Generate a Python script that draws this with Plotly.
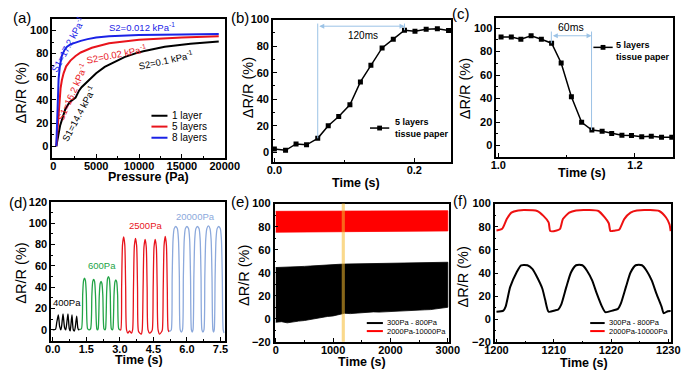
import plotly.graph_objects as go

FONT = "Arial, Liberation Sans, sans-serif"
W, H = 700, 383

# ---------------- data ----------------
# (a) sensitivity curves
a_p_1 = [350, 800, 1400, 1900, 2600, 3000, 3300, 4200, 5000, 6000, 7200, 8300, 9500, 10500, 13000, 16000, 19300]
a_v_1 = [0, 18, 32, 38, 42, 48, 51, 57, 63, 68.5, 73, 77, 80, 82, 86, 88.5, 90.5]
a_p_5 = [350, 480, 600, 700, 850, 1000, 1200, 1500, 2000, 2600, 3200, 4500, 6500, 10000, 15000, 19300]
a_v_5 = [0, 15, 30, 40, 50, 57, 63, 69, 74, 78, 81, 85, 89, 92, 94, 95]
a_p_8 = [350, 420, 520, 620, 780, 1000, 1300, 1600, 2000, 2500, 3200, 4000, 5000, 6500, 10000, 15000, 19300]
a_v_8 = [0, 20, 40, 58, 70, 78, 83, 86, 88, 89.5, 91, 92.5, 94, 95, 96, 96.5, 97]
a_names = ["1 layer", "5 layers", "8 layers"]

# (b) response time
b_t = [0.000, 0.016, 0.031, 0.046, 0.062, 0.077, 0.092, 0.108, 0.123, 0.138, 0.154, 0.170, 0.186, 0.201, 0.217, 0.233, 0.249]
b_v = [2.4, 1.5, 6.3, 5.6, 10.5, 20, 27, 35.8, 53, 65.5, 78.6, 85.2, 92, 91.2, 92.7, 93, 91.7]

# (c) recovery time
c_t = [1.004, 1.019, 1.033, 1.048, 1.063, 1.078, 1.092, 1.107, 1.122, 1.137, 1.152, 1.166, 1.181, 1.195, 1.210, 1.224, 1.239, 1.254]
c_v = [92.3, 92.3, 90.4, 93.4, 90.4, 87.1, 70.3, 41.5, 19.8, 13.2, 12.1, 10.2, 8.8, 8.5, 7.4, 8, 7.1, 7.1]

# (d) cycles at different pressures
d_400_t = [0.00, 0.12, 0.18, 0.25, 0.31, 0.36, 0.40, 0.46, 0.53, 0.58, 0.62, 0.68, 0.74, 0.78, 0.81, 0.86, 0.92, 0.97, 1.01, 1.07, 1.12, 1.16, 1.20]
d_400_v = [0.0, 0.5, 7, 14, 3, 0, 4, 15, 2, 0, 5, 15, 1, -1, 4, 14, 0, -1, 3, 13, 2, 0, 0.5]
d_600_t = [1.20, 1.28, 1.34, 1.38, 1.42, 1.46, 1.50, 1.56, 1.62,
           1.69, 1.75, 1.79, 1.83, 1.87, 1.91, 1.97, 2.00,
           2.03, 2.08, 2.12, 2.16, 2.20, 2.24, 2.29, 2.33,
           2.36, 2.41, 2.45, 2.49, 2.53, 2.57, 2.62, 2.66,
           2.69, 2.74, 2.78, 2.82, 2.86, 2.90, 2.95, 3.00]
d_600_v = [0.5, 1, 34, 46.5, 48.5, 46.5, 34, 1, 0,
           1, 33, 45.5, 47.3, 45.5, 33, 1, 0,
           1, 32, 43.5, 45.5, 43.5, 32, 1, 0,
           1, 35, 48, 50, 48, 35, 1, 0,
           1, 33, 45, 47, 45, 33, 1, 0]
d_2500_t = [3.00, 3.04, 3.08, 3.12, 3.17, 3.22, 3.26, 3.30, 3.36, 3.43, 3.52,
            3.57, 3.61, 3.65, 3.70, 3.75, 3.79, 3.83, 3.89, 3.96,
            4.00, 4.04, 4.08, 4.13, 4.18, 4.22, 4.26, 4.33, 4.40,
            4.45, 4.49, 4.53, 4.58, 4.63, 4.67, 4.71, 4.78, 4.86,
            4.90, 4.94, 4.98, 5.03, 5.08, 5.12, 5.16, 5.20]
d_2500_v = [0, 0, 40, 80, 87.3, 80, 40, 0, -3, -1, -3,
            0, 40, 79, 85.8, 79, 40, -1, -3, -4,
            0, 40, 78, 84.8, 78, 40, 0, -3, -2,
            0, 40, 78, 84.8, 78, 40, 0, -4, -2,
            0, 40, 80, 87.6, 80, 40, 0, -2]
d_20000_t = [5.20, 5.26, 5.30, 5.34, 5.38, 5.43, 5.50, 5.57, 5.62, 5.66, 5.70, 5.75,
             5.80, 5.84, 5.88, 5.93, 6.00, 6.07, 6.12, 6.16, 6.20, 6.235,
             6.27, 6.31, 6.35, 6.40, 6.47, 6.54, 6.59, 6.63, 6.67, 6.715,
             6.76, 6.80, 6.84, 6.89, 6.96, 7.03, 7.08, 7.12, 7.16, 7.19,
             7.22, 7.26, 7.30, 7.35, 7.42, 7.49, 7.54, 7.58, 7.62, 7.66]
d_20000_v = [-1, -1, 0, 50, 85, 95, 97, 95, 85, 50, 0, -2,
             0, 50, 85, 95, 97, 95, 85, 50, 0, -2,
             0, 50, 85, 95, 97, 95, 85, 50, 0, -2,
             0, 50, 85, 95, 97.5, 95, 85, 50, 0, -2,
             0, 50, 85, 95, 97, 95, 85, 50, 0, -3]
d_labels = ["400Pa", "600Pa", "2500Pa", "20000Pa"]

# (e) long-term stability envelopes
e_t = [0, 100, 200, 300, 400, 500, 600, 700, 800, 900, 1000, 1100, 1200, 1300, 1400, 1500,
       1600, 1700, 1800, 1900, 2000, 2100, 2200, 2300, 2400, 2500, 2600, 2700, 2800, 2900, 3000]
e_low_lo = [-3, -2.5, -3.5, -2.5, -2, -1.5, -0.5, 0, 1, 2, 2.5, 3.5, 4.8, 4.5, 5, 5.2,
            5.5, 6, 5.8, 6.2, 6.5, 6.6, 7, 6.8, 7.2, 7.5, 7.8, 8, 8.5, 9.2, 10]
e_low_hi = [44.5, 44.6, 44.8, 45, 45.2, 45.5, 45.8, 46.2, 46.5, 46.8, 47.1, 47.3, 47.5, 47.6, 47.8, 48,
            48.2, 48.2, 48.3, 48.4, 48.5, 48.6, 48.7, 48.8, 48.8, 48.9, 48.9, 49, 49, 49.1, 49.1]
e_hi_t = [0, 500, 1000, 1500, 2000, 2500, 3000]
e_hi_lo = [75.2, 75.3, 75.5, 75.8, 76, 76.2, 76.3]
e_hi_hi = [93.3, 93.4, 93.5, 93.5, 93.6, 93.7, 93.8]
e_names = ["300Pa - 800Pa", "2000Pa-10000Pa"]

# (f) zoom 1200-1230 s
f_low_t = [1200, 1201.2, 1201.6, 1202.4, 1203.5, 1204.3, 1205.4, 1206.3, 1207.1, 1208.0, 1208.5, 1209.1,
           1210.2, 1210.8, 1211.3, 1212.2, 1213.0, 1213.9, 1215.0, 1215.8, 1216.7, 1217.5, 1218.4, 1219.0,
           1220.3, 1221.2, 1221.7, 1222.6, 1223.4, 1224.3, 1225.4, 1226.2, 1227.1, 1227.9, 1228.8, 1229.2,
           1229.9, 1230.4]
f_low_v = [6.5, 7.5, 11, 28, 40.5, 46.7, 46.7, 43.3, 36.3, 26.6, 16.8, 6.5,
           7.6, 8.5, 12.6, 28, 40.5, 46.7, 46.7, 42, 33.6, 22.4, 11.2, 6.2,
           7.6, 9, 13.5, 28, 40.5, 46.7, 46.7, 42, 33.6, 22.4, 11.2, 5.3,
           7, 7.2]
f_hi_t = [1200, 1201.0, 1201.8, 1202.6, 1203.8, 1204.9, 1207.1, 1208.2, 1209.1, 1209.4,
          1210.5, 1211.1, 1211.6, 1212.7, 1213.9, 1216.1, 1217.8, 1218.9, 1219.6, 1219.9,
          1220.6, 1221.4, 1222.3, 1223.4, 1224.5, 1226.7, 1228.4, 1229.6, 1230.2, 1230.4]
f_hi_v = [76.8, 78.2, 86.6, 92.2, 94.1, 94.4, 93.6, 89.4, 83.8, 76.3,
          76.8, 78.2, 86.6, 92.2, 94.1, 94.4, 93.6, 88, 83, 76.3,
          76.6, 77.4, 86.6, 92.2, 94.1, 94.4, 93.6, 88, 82, 76.3]

# ---------------- colours ----------------
BLK = "#000000"
RED_A = "#E8141C"
BLUE_A = "#1A22E6"
GREEN = "#22A446"
LBLUE = "#8CA9DC"
ARROW = "#9CC3E6"

fig = go.Figure()


def X(px):
    return px / W


def Y(py):
    return 1 - py / H


# (a)
for p, v, c, n in [(a_p_1, a_v_1, BLK, a_names[0]), (a_p_5, a_v_5, RED_A, a_names[1]), (a_p_8, a_v_8, BLUE_A, a_names[2])]:
    fig.add_trace(go.Scatter(x=p, y=v, mode="lines", line=dict(color=c, width=2), name=n, xaxis="x", yaxis="y"))

# (b)
fig.add_trace(go.Scatter(x=b_t, y=b_v, mode="lines+markers", line=dict(color=BLK, width=1.5),
                         marker=dict(symbol="square", size=5, color=BLK), xaxis="x2", yaxis="y2"))
# (c)
fig.add_trace(go.Scatter(x=c_t, y=c_v, mode="lines+markers", line=dict(color=BLK, width=1.5),
                         marker=dict(symbol="square", size=5, color=BLK), xaxis="x3", yaxis="y3"))
# (d)
for t, v, c in [(d_400_t, d_400_v, BLK), (d_600_t, d_600_v, GREEN), (d_2500_t, d_2500_v, RED_A), (d_20000_t, d_20000_v, LBLUE)]:
    fig.add_trace(go.Scatter(x=t, y=v, mode="lines", line=dict(color=c, width=1.3, shape="spline", smoothing=0.7),
                             xaxis="x4", yaxis="y4"))
# (e)
fig.add_trace(go.Scatter(x=e_t + e_t[::-1], y=e_low_hi + e_low_lo[::-1], mode="lines", fill="toself",
                         fillcolor=BLK, line=dict(color=BLK, width=0.8), xaxis="x5", yaxis="y5"))
fig.add_trace(go.Scatter(x=e_hi_t + e_hi_t[::-1], y=e_hi_hi + e_hi_lo[::-1], mode="lines", fill="toself",
                         fillcolor="#FF0000", line=dict(color="#FF0000", width=0.8), xaxis="x5", yaxis="y5"))
# (f)
fig.add_trace(go.Scatter(x=f_hi_t, y=f_hi_v, mode="lines", line=dict(color="#EE1111", width=2, shape="spline", smoothing=0.6),
                         xaxis="x6", yaxis="y6"))
fig.add_trace(go.Scatter(x=f_low_t, y=f_low_v, mode="lines", line=dict(color=BLK, width=2, shape="spline", smoothing=0.6),
                         xaxis="x6", yaxis="y6"))


def axis(domain, rng, dtick, minor, tick0=0, fmt="d", anchor=None, standoff=0):
    return dict(domain=domain, range=rng, dtick=dtick, tick0=tick0, showline=True, mirror=True,
                linecolor="black", linewidth=1.5, ticks="inside", ticklen=4, tickwidth=1.2,
                tickcolor="black", showgrid=False, zeroline=False, anchor=anchor, tickformat=fmt,
                ticklabelstandoff=standoff,
                tickfont=dict(family=FONT, size=11, color="black", weight=700),
                minor=dict(ticks="inside", ticklen=2, tickwidth=1, tickcolor="black", dtick=minor, tick0=tick0, showgrid=False))


XS = -3
layout = dict(
    width=W, height=H, margin=dict(l=0, r=0, t=0, b=0), showlegend=False,
    paper_bgcolor="white", plot_bgcolor="white", font=dict(family=FONT, color="black"),
    xaxis=axis([X(44), X(222.7)], [-100, 20000], 5000, 2500, anchor="y", standoff=XS),
    yaxis=axis([Y(156.7), Y(13.3)], [-10, 110], 20, 10, anchor="x"),
    xaxis2=axis([X(272.7), X(457.7)], [-0.002, 0.253], 0.2, 0.1, fmt=".1f", anchor="y2", standoff=XS),
    yaxis2=axis([Y(161), Y(14)], [-7.3, 100], 20, 10, anchor="x2"),
    xaxis3=axis([X(504.3), X(687.7)], [0.997, 1.256], 0.2, 0.1, tick0=1.0, fmt=".1f", anchor="y3", standoff=XS),
    yaxis3=axis([Y(155.7), Y(12.3)], [-9.6, 108.6], 20, 10, anchor="x3"),
    xaxis4=axis([X(42.7), X(222.7)], [-0.07, 7.69], 1.5, 0.75, fmt=".1f", anchor="y4", standoff=XS),
    yaxis4=axis([Y(345.7), Y(202.3)], [-10.3, 120], 20, 10, anchor="x4"),
    xaxis5=axis([X(274.3), X(455.7)], [-22, 3028], 1000, 500, anchor="y5", standoff=XS),
    yaxis5=axis([Y(346.7), Y(204)], [-20, 100], 20, 10, anchor="x5"),
    xaxis6=axis([X(502.7), X(685.7)], [1199.7, 1230.5], 10, 5, tick0=1200, anchor="y6", standoff=XS),
    yaxis6=axis([Y(347.3), Y(204)], [-20, 100], 20, 10, anchor="x6"),
)
fig.update_layout(**layout)

ann = []
shapes = []


def txt(px, py, s, size=10, color="black", bold=False, angle=0, xanchor="center", yanchor="middle", align="center"):
    ann.append(dict(x=X(px), y=Y(py), xref="paper", yref="paper", text=s, showarrow=False, textangle=angle,
                    xanchor=xanchor, yanchor=yanchor, align=align,
                    font=dict(family=FONT, size=size, color=color, weight=700 if bold else 400)))


def seg(px0, px1, py, color, width=2):
    shapes.append(dict(type="line", xref="paper", yref="paper", x0=X(px0), x1=X(px1), y0=Y(py), y1=Y(py),
                       line=dict(color=color, width=width)))


# panel labels
for px, py, s in [(12.5, 11.7, "(a)"), (239, 11.7, "(b)"), (468, 8, "(c)"), (8.5, 202.5, "(d)"), (238, 201.7, "(e)"), (467, 201, "(f)")]:
    txt(px, py, s, size=15)

# axis titles
YT = "ΔR/R (%)"
for px, py in [(11.7, 90), (246.7, 84), (471.7, 85), (11.7, 276), (243.3, 278), (470, 280)]:
    txt(px, py, YT, size=14.5, angle=-90)
txt(143.3, 176.5, "Pressure (Pa)", size=12.5, bold=True)
txt(359.3, 182.5, "Time (s)", size=12.5, bold=True)
txt(593.3, 172.5, "Time (s)", size=12.5, bold=True)
txt(133.3, 365, "Time (s)", size=12.5, bold=True)
txt(365, 367.5, "Time (s)", size=12.5, bold=True)
txt(595.7, 369, "Time (s)", size=12.5, bold=True)

# (a) slope labels
txt(137, 22, "S2=0.012 kPa<sup>-1</sup>", size=9.5, color=BLUE_A)
txt(60, 39, "S1=17.2 kPa<sup>-1</sup>", size=9.5, color=BLUE_A, angle=-62)
txt(64, 88.3, "S1=16.2 kPa<sup>-1</sup>", size=9.5, color=RED_A, angle=-66)
txt(71.5, 110.7, "S1=14.4 kPa<sup>-1</sup>", size=9.5, color=BLK, angle=-62)
txt(110, 49.3, "S2=0.02 kPa<sup>-1</sup>", size=9.5, color=RED_A, angle=-11)
txt(161.7, 55.7, "S2=0.1 kPa<sup>-1</sup>", size=9.5, color=BLK, angle=-12)

# (a) legend
for py, c, n in [(113.3, BLK, a_names[0]), (124.5, RED_A, a_names[1]), (136, BLUE_A, a_names[2])]:
    seg(146.7, 163.3, py, c, 2)
    txt(166, py, n, size=10, xanchor="left")

# (b) legend
seg(373.3, 393.3, 126, BLK, 1.5)
shapes.append(dict(type="rect", xref="paper", yref="paper", x0=X(380.8), x1=X(385.8), y0=Y(128.5), y1=Y(123.5),
                   fillcolor=BLK, line=dict(width=0)))
txt(396.7, 126, "5 layers<br>tissue paper", size=9, bold=True, xanchor="left", align="left")
# (c) legend
seg(605, 625, 42.7, BLK, 1.5)
shapes.append(dict(type="rect", xref="paper", yref="paper", x0=X(612.5), x1=X(617.5), y0=Y(45.2), y1=Y(40.2),
                   fillcolor=BLK, line=dict(width=0)))
txt(626.7, 46.5, "5 layers<br>tissue paper", size=9, bold=True, xanchor="left", align="left")

# (b) arrows
shapes.append(dict(type="line", xref="x2", yref="y2", x0=0.062, x1=0.062, y0=10.5, y1=97, line=dict(color=ARROW, width=1)))
shapes.append(dict(type="line", xref="x2", yref="y2", x0=0.186, x1=0.186, y0=92, y1=97, line=dict(color=ARROW, width=1)))
ann.append(dict(x=0.186, y=95, ax=0.062, ay=95, xref="x2", yref="y2", axref="x2", ayref="y2", text="",
                showarrow=True, arrowhead=2, startarrowhead=2, arrowside="end+start", arrowsize=1, arrowwidth=1,
                arrowcolor=ARROW, standoff=0, startstandoff=0))
ann.append(dict(x=0.126, y=88, xref="x2", yref="y2", text="120ms", showarrow=False,
                font=dict(family=FONT, size=10, color="black")))
# (c) arrows
shapes.append(dict(type="line", xref="x3", yref="y3", x0=1.0776, x1=1.0776, y0=87, y1=97, line=dict(color=ARROW, width=1)))
shapes.append(dict(type="line", xref="x3", yref="y3", x0=1.1365, x1=1.1365, y0=13.2, y1=97, line=dict(color=ARROW, width=1)))
ann.append(dict(x=1.1365, y=93.4, ax=1.0776, ay=93.4, xref="x3", yref="y3", axref="x3", ayref="y3", text="",
                showarrow=True, arrowhead=2, startarrowhead=2, arrowside="end+start", arrowsize=1, arrowwidth=1,
                arrowcolor=ARROW, standoff=0, startstandoff=0))
ann.append(dict(x=1.106, y=101, xref="x3", yref="y3", text="60ms", showarrow=False,
                font=dict(family=FONT, size=10.5, color="black")))

# (d) labels
txt(59.3, 306, d_labels[0], size=9.5, color=BLK)
txt(95, 267.5, d_labels[1], size=9.5, color=GREEN)
txt(141, 226.5, d_labels[2], size=9.5, color=RED_A)
txt(192, 217, d_labels[3], size=9.5, color=LBLUE)

# (e) highlight band
shapes.append(dict(type="rect", xref="x5", yref="y5 domain", x0=1150, x1=1205, y0=0, y1=1,
                   fillcolor="rgba(245,185,45,0.55)", line=dict(width=0), layer="above"))

# (e)/(f) legends
for x0, x1, tx in [(370, 386.7, 389.3), (601.7, 616.7, 619.3)]:
    seg(x0, x1, 327.3, BLK, 2)
    seg(x0, x1, 335.6, "#FF0000", 2)
    txt(tx, 327.2, e_names[0], size=7.5, xanchor="left")
    txt(tx, 335.7, e_names[1], size=7.5, xanchor="left")

fig.update_layout(annotations=ann, shapes=shapes)
fig.write_html("out.html", config={"displayModeBar": False},
               post_script="document.body.style.margin='0';document.body.style.overflow='hidden';")
